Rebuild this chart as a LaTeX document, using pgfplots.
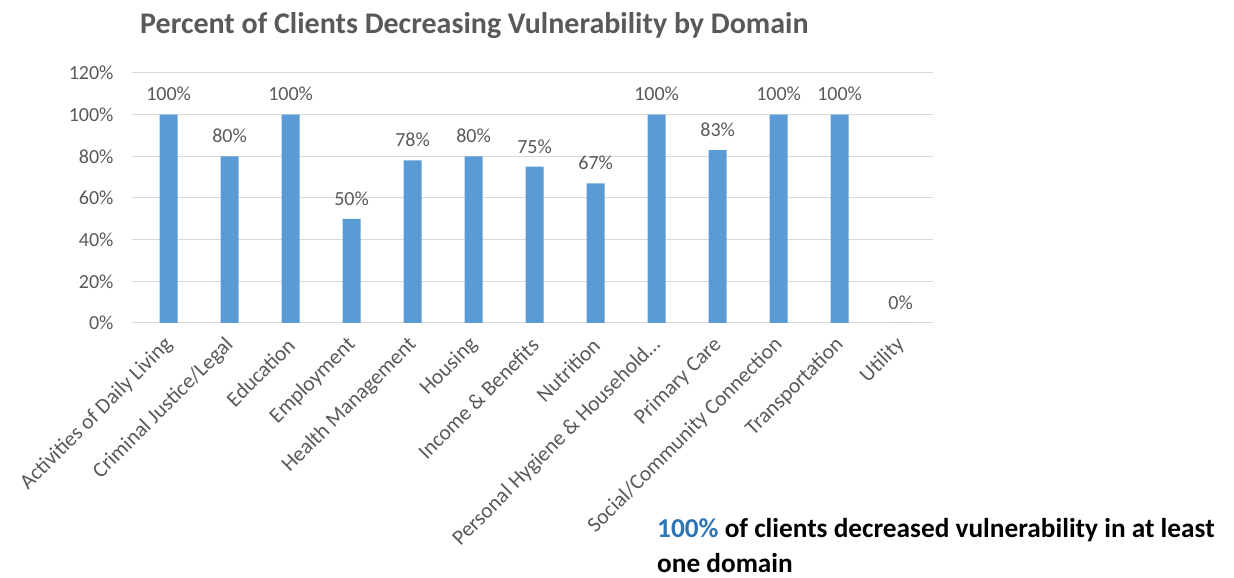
\documentclass[border=0pt]{standalone}
\usepackage{pgfplots}
\pgfplotsset{compat=1.18}
\usepackage{fontspec}
\setmainfont{Carlito}
\definecolor{barblue}{HTML}{5B9BD5}
\definecolor{txtgray}{HTML}{595959}
\definecolor{gridgray}{HTML}{D9D9D9}
\definecolor{annblue}{HTML}{2E75B6}
\begin{document}
\begin{tikzpicture}[x=1pt,y=1pt]
\path[use as bounding box] (0,0) rectangle (1234,578);
\node[anchor=base west, font=\fontsize{30}{30}\selectfont\bfseries, text=txtgray, inner sep=0pt] at (140,544) {Percent of Clients Decreasing Vulnerability by Domain};
\begin{axis}[
  at={(132pt,255pt)}, anchor=south west,
  scale only axis, width=801pt, height=250pt,
  ybar, bar width=18pt,
  ymin=0, ymax=120, ytick={0,20,40,60,80,100,120},
  yticklabel={\pgfmathprintnumber{\tick}\%},
  /pgf/number format/assume math mode=true,
  xmin=-0.6, xmax=12.53, xtick={0,1,2,3,4,5,6,7,8,9,10,11,12},
  xticklabels={Activities of Daily Living, Criminal Justice/Legal, Education, Employment, Health Management, Housing, Income \& Benefits, Nutrition, {Personal Hygiene \& Household\ldots}, Primary Care, Social/Community Connection, Transportation, Utility},
  x tick label style={yshift=-13pt, xshift=2pt, rotate=45, anchor=east, font=\fontsize{21.5}{21.5}\selectfont, text=txtgray, inner sep=2pt},
  y tick label style={font=\fontsize{20}{20}\selectfont, text=txtgray, xshift=-15pt},
  ymajorgrids, major grid style={gridgray, line width=1pt},
  axis line style={draw=none},
  major tick style={draw=none},
  nodes near coords={\pgfmathprintnumber{\pgfplotspointmeta}\%},
  nodes near coords style={font=\fontsize{20}{20}\selectfont, text=txtgray, anchor=south, yshift=10pt},
  point meta=y,
]
\addplot[fill=barblue, draw=none] coordinates {
(0,100) (1,80) (2,100) (3,50) (4,78) (5,80) (6,75) (7,67) (8,100) (9,83) (10,100) (11,100) (12,0)
};
\end{axis}
\node[anchor=base west, font=\fontsize{27.3}{27.3}\selectfont\bfseries, inner sep=0pt] at (657,40) {\textcolor{annblue}{100\%} of clients decreased vulnerability in at least};
\node[anchor=base west, font=\fontsize{27.3}{27.3}\selectfont\bfseries, inner sep=0pt] at (657,5) {one domain};
\end{tikzpicture}
\end{document}
